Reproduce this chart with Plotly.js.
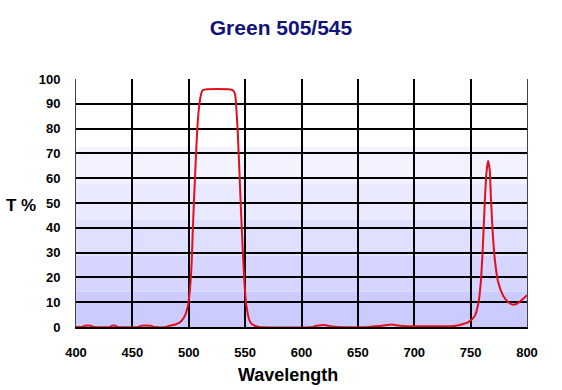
<!DOCTYPE html>
<html>
<head>
<meta charset="utf-8">
<script src="https://cdn.plot.ly/plotly-3.0.1.min.js"></script>
<style>html,body{margin:0;padding:0;background:#fff;}#chart{width:562px;height:390px;}</style>
</head>
<body>
<div id="chart"></div>
<script>
// Wavelength (nm) and transmission (%)
const wavelength = [400,405,408,413,416,430,432,435,437,455,458,466,470,480,483,488,492,496,499,501,502.5,503.5,505,506.5,508,509.5,511,512.5,539,541,542.5,543.5,545,546.5,548,549.5,551,552.5,554,556,559,562,610,613,616,619,623,626,632,660,665,672,676,680,684,690,700,735,740,744,748,751,754,757,759,760.7,762.5,764,765.5,767,768,769.6,771.5,774.5,779,783.5,788,792,796,800];
const transmission = [0,0,0.5,0.5,0,0,0.5,0.5,0,0,0.5,0.5,0,0,0.5,1,1.8,4,8,15,25,38,55,70,83,90,94,95.5,95.5,94,86,78,62,45,30,17,9,5,2.5,1.2,0.4,0,0,0.5,0.6,0.8,0.6,0.3,0,0,0.3,0.5,0.8,1,0.7,0.4,0.3,0.4,0.8,1.3,2,3,4.8,10,18,31,50,62,67,63,52,38,27,18,12.5,10,9,9.6,11.2,12.8];
const xTicks = [400,450,500,550,600,650,700,750,800];
const yTicks = [0,10,20,30,40,50,60,70,80,90,100];
const bandEdges = [0,14.2,28.8,43.4,58,72.6];
const bandColors = ['#cbcbff','#d5d5ff','#dfdfff','#e9e9ff','#f3f3ff'];

const shapes = [];
for (let i = 0; i < bandColors.length; i++) {
  shapes.push({type:'rect', xref:'paper', yref:'y', x0:0, x1:1, y0:bandEdges[i], y1:bandEdges[i+1],
    fillcolor:bandColors[i], line:{width:0}, layer:'below'});
}

const trace = {
  x: wavelength, y: transmission, type:'scatter', mode:'lines',
  line:{color:'#e3101c', width:2, shape:'spline', smoothing:0.6}, hoverinfo:'skip'
};

const font = {family:'Liberation Sans, Arial, sans-serif', color:'#000'};
const layout = {
  width:562, height:390,
  margin:{l:76, r:35, t:79, b:63, pad:0},
  paper_bgcolor:'#fff', plot_bgcolor:'#fff',
  showlegend:false,
  title:{text:'<b>Green 505/545</b>', font:{family:font.family, size:21, color:'#12127a'},
    x:0.5, xref:'container', xanchor:'center', y:0.928, yanchor:'middle'},
  xaxis:{range:[400,800], tickvals:xTicks, ticktext:xTicks.map(v=>'<b>'+v+'</b>'),
    showgrid:true, gridcolor:'#000', gridwidth:2, zeroline:false,
    showline:true, linecolor:'#000', linewidth:2, mirror:false,
    ticks:'', ticklabelstandoff:12, tickfont:{family:font.family, size:13, color:'#000'},
    fixedrange:true},
  yaxis:{range:[0,100], tickvals:yTicks, ticktext:yTicks.map(v=>'<b>'+v+'</b>'),
    showgrid:true, gridcolor:'#000', gridwidth:2, zeroline:false,
    showline:true, linecolor:'#444', linewidth:1, mirror:true,
    ticks:'', ticklabelstandoff:12, tickfont:{family:font.family, size:13, color:'#000'},
    fixedrange:true},
  shapes: shapes,
  annotations:[
    {text:'<b>T %</b>', xref:'paper', yref:'y', x:-0.122, y:49, xanchor:'center', yanchor:'middle',
      showarrow:false, font:{family:font.family, size:17, color:'#000'}},
    {text:'<b>Wavelength</b>', xref:'paper', yref:'paper', x:0.469, y:-0.195, xanchor:'center', yanchor:'middle',
      showarrow:false, font:{family:font.family, size:18, color:'#000'}}
  ]
};

Plotly.newPlot('chart', [trace], layout, {staticPlot:true, displayModeBar:false});
</script>
</body>
</html>
